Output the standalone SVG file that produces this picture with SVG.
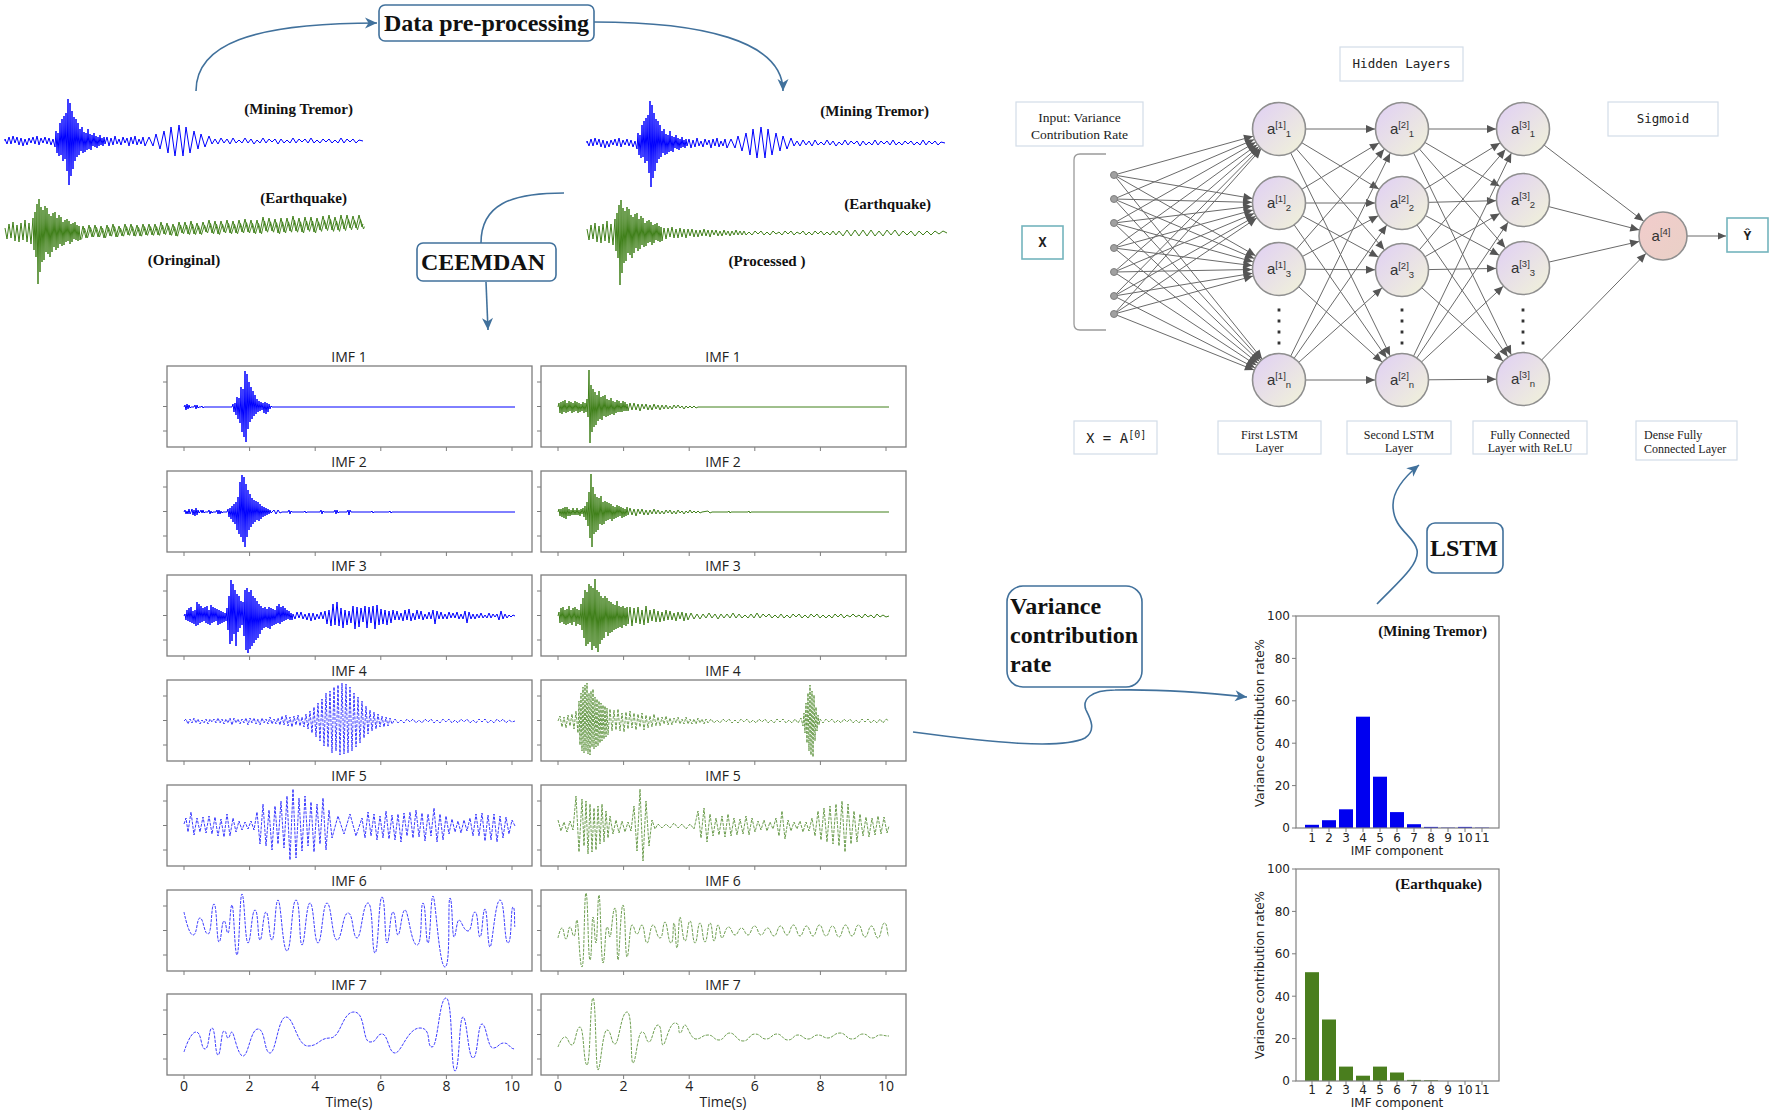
<svg xmlns="http://www.w3.org/2000/svg" xmlns:xlink="http://www.w3.org/1999/xlink" width="1772" height="1114" viewBox="0 0 1772 1114">
<defs>
<style>
.ser{font-family:"Liberation Serif","Times New Roman",serif}
.bs{font-family:"Liberation Serif","Times New Roman",serif;font-weight:bold;fill:#111}
.mono{font-family:"DejaVu Sans Mono","Liberation Mono",monospace;fill:#222}
.os{font-family:"Open Sans","Noto Sans",sans-serif;fill:#222}
.dv{font-family:"DejaVu Sans","Liberation Sans",sans-serif;fill:#222;font-size:12px}
.nl{font-family:"Liberation Sans",Arial,sans-serif;font-size:15px;fill:#333;text-anchor:middle}
.sp{font-size:9.5px}
.cb{fill:none;stroke:#41719c;stroke-width:1.6}
.bx{fill:#fff;stroke:#41719c;stroke-width:1.6}
.lb{fill:#fff;stroke:#d3dde8;stroke-width:1.2}
.tb{fill:#fff;stroke:#74b4bd;stroke-width:1.6}
.nn{fill:none;stroke:#6a6a6a;stroke-width:1}
.nd{fill:url(#gN);stroke:#8f8f8f;stroke-width:1.6}
.wb{fill:none;stroke:#0000ff;stroke-width:1;stroke-linejoin:round}
.wg{fill:none;stroke:#40801a;stroke-width:1;stroke-linejoin:round}
.d{stroke-dasharray:3 1.2;stroke-width:.9;opacity:.85}
.pf{fill:#fff;stroke:#7d7d7d;stroke-width:1.3}
.tk{stroke:#7d7d7d;stroke-width:1;fill:none}
.ax{fill:none;stroke:#808080;stroke-width:1.2}
</style>
<linearGradient id="gN" x1="0" y1="0" x2="1" y2="1"><stop offset="0" stop-color="#e0cff5"/><stop offset="1" stop-color="#f1f3d8"/></linearGradient>
<linearGradient id="gO" x1="0" y1="0" x2="1" y2="1"><stop offset="0" stop-color="#f2cccc"/><stop offset="1" stop-color="#e9d0c6"/></linearGradient>
<marker id="mB" markerUnits="userSpaceOnUse" orient="auto" refX="0" refY="0" overflow="visible"><path d="M0,0 L-12,-5.5 L-8.5,0 L-12,5.5z" fill="#41719c"/></marker>
<marker id="m27" markerUnits="userSpaceOnUse" orient="auto" refX="27" refY="0" overflow="visible"><path d="M0,0 L-9,-4 L-9,4z" fill="#555"/></marker>
<marker id="m24" markerUnits="userSpaceOnUse" orient="auto" refX="24.5" refY="0" overflow="visible"><path d="M0,0 L-9,-4 L-9,4z" fill="#555"/></marker>
<marker id="m0" markerUnits="userSpaceOnUse" orient="auto" refX="0" refY="0" overflow="visible"><path d="M0,0 L-8,-3.5 L-8,3.5z" fill="#555"/></marker>
<g id="pfr"><rect class="pf" x="0" y="0" width="365" height="81"/><path class="tk" d="M-4,16h4M-4,40.5h4M-4,65h4M17,81v4M82.6,81v4M148.2,81v4M213.8,81v4M279.4,81v4M345,81v4"/></g>
<path id="wMT" d="M0,0 0,-2 2,3 4,-4 6,3 8,-5 10,2 12,-4 14,4 16,-3 18,5 20,-2 22,4 24,-3 26,2 28,-4 30,3 32,-5 34,4 36,-3 38,2 40,-4 42,3 44,-3 46,4 48,-2 50,6 51,-10 52,12 53,-8 54,15 55,-18 56,14 57,-22 58,20 59,-25 60,18 61,-28 62,30 63,-42 64,44 65,-38 66,35 67,-30 68,28 69,-24 70,20 71,-22 72,16 73,-18 74,14 75,-12 76,10 77,-14 78,12 79,-9 80,11 81,-8 82,9 83,-12 84,8 85,-7 86,9 87,-6 88,5 89,-8 90,6 91,-5 92,7 93,-4 94,5 95,-6 96,4 97,-3 98,5 99,-4 100,3 102,-4 104,5 106,-3 108,4 110,-5 112,3 114,-2 116,4 118,-4 120,2 122,-3 124,5 126,-4 128,3 130,-5 132,4 134,-2 136,3 138,-4 140,5 144,-4 148,5 151,-7 155,8 159,-10 163,12 166,-14 170,15 174,-16 178,15 181,-14 185,12 189,-10 193,8 196,-7 200,6 204,-5 207,3 210,-2 213,3 216,-3 219,2 222,-2 225,3 228,-3 231,2 234,-1 237,2 240,-3 243,2 246,-2 249,3 252,-1 255,2 258,-3 261,2 264,-2 267,1 270,-2 273,3 276,-2 279,2 282,-1 285,2 288,-3 291,2 294,-2 297,1 300,-2 303,2 306,-3 309,2 312,-1 315,2 318,-2 321,1 324,-2 327,2 330,-1 333,2 336,-3 339,2 342,-2 345,1 348,-2 351,2 354,-1 358,0"/>
<path id="wEQ" d="M0,-4 2,7 4,-8 6,6 8,-10 10,9 12,-7 14,10 16,-9 18,8 20,-12 22,10 24,-9 26,12 28,-14 29,18 30,-20 31,25 32,-28 33,52 34,-33 35,40 36,-25 37,30 38,-22 39,28 40,-26 41,20 42,-24 43,22 44,-18 45,25 46,-16 47,20 48,-19 49,15 50,-20 51,18 52,-14 53,16 54,-17 55,12 56,-15 57,14 58,-10 59,13 60,-12 61,10 62,-13 63,9 64,-11 65,12 66,-8 67,10 68,-9 69,7 70,-10 71,8 72,-7 73,9 74,-6 75,8"/>
<path id="wEQt" d="M75,8 78,-6 81,6 84,-7 87,5 90,-7 93,5 96,-6 99,6 102,-7 105,4 108,-8 111,5 114,-6 117,4 120,-8 123,3 126,-8 129,4 132,-7 135,4 138,-8 141,3 144,-8 147,3 150,-8 153,3 156,-10 159,2 162,-9 165,3 168,-8 171,4 174,-10 177,1 180,-10 183,2 186,-11 189,2 192,-9 195,2 198,-10 201,0 204,-12 207,1 210,-11 213,2 216,-11 219,0 222,-12 225,1 228,-11 231,1 234,-12 237,0 240,-13 243,0 246,-12 249,1 252,-12 255,1 258,-15 261,-1 264,-14 267,-1 270,-13 273,1 276,-14 279,0 282,-14 285,-1 288,-16 291,-1 294,-14 297,0 300,-15 303,-2 306,-15 309,0 312,-14 315,-2 318,-16 321,-3 324,-17 327,-2 330,-15 333,-2 336,-17 339,-3 342,-17 345,-4 348,-16 351,-4 354,-17 357,-5 358,-8"/>
</defs>
<rect width="1772" height="1114" fill="#fff"/>

<g id="connectors">
<path class="cb" marker-end="url(#mB)" d="M196,91 C196,45 250,23 377,23"/>
<path class="cb" marker-end="url(#mB)" d="M594,22 C700,22 783,40 783,91"/>
<path class="cb" d="M564,193 C510,193 481,205 481,243"/>
<path class="cb" marker-end="url(#mB)" d="M486,282 L488,330"/>
<path class="cb" marker-end="url(#mB)" d="M913,732 C990,742 1060,750 1085,738 C1097,730 1090,718 1086,710 C1082,700 1090,690 1115,690 C1160,689 1210,693 1247,697"/>
<path class="cb" marker-end="url(#mB)" d="M1377,604 C1395,585 1420,565 1417,550 C1414,535 1393,530 1393,505 C1393,488 1408,474 1419,465"/>
<g class="nn" marker-end="url(#m27)">
<path d="M1114,175 1279,129"/><path d="M1114,175 1279,203"/><path d="M1114,175 1279,269"/><path d="M1114,175 1279,380"/>
<path d="M1114,199 1279,129"/><path d="M1114,199 1279,203"/><path d="M1114,199 1279,269"/><path d="M1114,199 1279,380"/>
<path d="M1114,223 1279,129"/><path d="M1114,223 1279,203"/><path d="M1114,223 1279,269"/><path d="M1114,223 1279,380"/>
<path d="M1114,248 1279,129"/><path d="M1114,248 1279,203"/><path d="M1114,248 1279,269"/><path d="M1114,248 1279,380"/>
<path d="M1114,272 1279,129"/><path d="M1114,272 1279,203"/><path d="M1114,272 1279,269"/><path d="M1114,272 1279,380"/>
<path d="M1114,296 1279,129"/><path d="M1114,296 1279,203"/><path d="M1114,296 1279,269"/><path d="M1114,296 1279,380"/>
<path d="M1114,314 1279,129"/><path d="M1114,314 1279,203"/><path d="M1114,314 1279,269"/><path d="M1114,314 1279,380"/>
<path d="M1279,129 1402,129"/><path d="M1279,129 1402,203"/><path d="M1279,129 1402,270"/><path d="M1279,129 1402,380"/>
<path d="M1279,203 1402,129"/><path d="M1279,203 1402,203"/><path d="M1279,203 1402,270"/><path d="M1279,203 1402,380"/>
<path d="M1279,269 1402,129"/><path d="M1279,269 1402,203"/><path d="M1279,269 1402,270"/><path d="M1279,269 1402,380"/>
<path d="M1279,380 1402,129"/><path d="M1279,380 1402,203"/><path d="M1279,380 1402,270"/><path d="M1279,380 1402,380"/>
<path d="M1402,129 1523,129"/><path d="M1402,129 1523,200"/><path d="M1402,129 1523,268"/><path d="M1402,129 1523,379"/>
<path d="M1402,203 1523,129"/><path d="M1402,203 1523,200"/><path d="M1402,203 1523,268"/><path d="M1402,203 1523,379"/>
<path d="M1402,270 1523,129"/><path d="M1402,270 1523,200"/><path d="M1402,270 1523,268"/><path d="M1402,270 1523,379"/>
<path d="M1402,380 1523,129"/><path d="M1402,380 1523,200"/><path d="M1402,380 1523,268"/><path d="M1402,380 1523,379"/>
</g>
<g class="nn" marker-end="url(#m24)">
<path d="M1523,129 1663,236"/><path d="M1523,200 1663,236"/><path d="M1523,268 1663,236"/><path d="M1523,379 1663,236"/>
</g>
<path class="nn" stroke-width="1.4" marker-end="url(#m0)" d="M1687,236 H1726"/>
</g>

<g id="data-preprocessing"><rect class="bx" x="379" y="5" width="215" height="36" rx="6"/><text class="bs" x="486.5" y="31" font-size="24" text-anchor="middle">Data pre-processing</text></g>
<g id="ceemdan"><rect class="bx" x="417" y="243" width="139" height="38" rx="6"/><text class="bs" x="483" y="270" font-size="24" text-anchor="middle">CEEMDAN</text></g>
<g id="variance-box"><rect class="bx" x="1007" y="586" width="135" height="101" rx="16"/><text class="bs" font-size="24"><tspan x="1010" y="614">Variance</tspan><tspan x="1010" y="643">contribution</tspan><tspan x="1010" y="672">rate</tspan></text></g>
<g id="lstm-box"><rect class="bx" x="1427" y="523" width="76" height="50" rx="8"/><text class="bs" x="1464" y="556" font-size="24" text-anchor="middle">LSTM</text></g>

<g id="signals-original">
<use xlink:href="#wMT" href="#wMT" class="wb" stroke-width="1.3" transform="translate(5,141)"/>
<use xlink:href="#wEQ" href="#wEQ" class="wg" stroke-width="1.3" transform="translate(5,232)"/>
<use xlink:href="#wEQt" href="#wEQt" class="wg" stroke-width="1.3" transform="translate(5,232)"/>
<use xlink:href="#wEQt" href="#wEQt" class="wg" stroke-width="1.1" transform="translate(6.5,233) scale(1,0.8)"/>
<text class="bs" font-size="15" x="353" y="114" text-anchor="end">(Mining Tremor)</text>
<text class="bs" font-size="15" x="347" y="203" text-anchor="end">(Earthquake)</text>
<text class="bs" font-size="15" x="184" y="265" text-anchor="middle">(Oringinal)</text>
</g>

<g id="signals-processed">
<use xlink:href="#wMT" href="#wMT" class="wb" stroke-width="0.9" transform="translate(587,143)"/>
<use xlink:href="#wEQ" href="#wEQ" class="wg" stroke-width="0.9" transform="translate(587,233)"/>
<path class="wg" stroke-width="0.9" transform="translate(587,233)" d="M75,8 77,-5 79,6 81,-5 83,4 85,-6 87,5 89,-4 91,5 93,-5 95,4 97,-4 99,5 101,-4 103,3 105,-4 107,4 109,-3 111,4 113,-3 115,3 117,-4 119,3 121,-3 123,4 125,-3 127,2 129,-3 131,3 133,-2 135,3 137,-3 139,2 141,-2 143,3 145,-2 147,2 149,-3 151,2 153,-2 155,2 157,-2 159,2 162,-1 165,2 168,-2 171,1 174,-2 177,2 180,-1 183,2 186,-2 189,1 192,-1 195,2 198,-2 201,1 204,-2 207,2 210,-1 213,1 216,-2 219,2 222,-1 225,2 228,-2 231,1 234,-2 237,2 240,-1 243,2 246,-2 249,2 252,-2 256,3 260,-3 264,3 268,-3 272,3 276,-3 280,3 284,-3 288,3 292,-2 296,3 300,-3 304,2 308,-3 312,3 316,-2 320,2 324,-2 328,3 332,-2 336,2 340,-2 344,2 348,-2 352,1 356,-2 360,0"/>
<text class="bs" font-size="15" x="929" y="116" text-anchor="end">(Mining Tremor)</text>
<text class="bs" font-size="15" x="931" y="209" text-anchor="end">(Earthquake)</text>
<text class="bs" font-size="15" x="767" y="266" text-anchor="middle">(Processed )</text>
</g>

<g id="imf-panels">
<use xlink:href="#pfr" href="#pfr" x="167" y="366"/><use xlink:href="#pfr" href="#pfr" x="167" y="471"/><use xlink:href="#pfr" href="#pfr" x="167" y="575"/><use xlink:href="#pfr" href="#pfr" x="167" y="680"/><use xlink:href="#pfr" href="#pfr" x="167" y="785"/><use xlink:href="#pfr" href="#pfr" x="167" y="890"/><use xlink:href="#pfr" href="#pfr" x="167" y="994"/>
<use xlink:href="#pfr" href="#pfr" x="541" y="366"/><use xlink:href="#pfr" href="#pfr" x="541" y="471"/><use xlink:href="#pfr" href="#pfr" x="541" y="575"/><use xlink:href="#pfr" href="#pfr" x="541" y="680"/><use xlink:href="#pfr" href="#pfr" x="541" y="785"/><use xlink:href="#pfr" href="#pfr" x="541" y="890"/><use xlink:href="#pfr" href="#pfr" x="541" y="994"/>
<g class="os" font-size="14" text-anchor="middle">
<text x="349" y="362">IMF 1</text><text x="349" y="467">IMF 2</text><text x="349" y="571">IMF 3</text><text x="349" y="676">IMF 4</text><text x="349" y="781">IMF 5</text><text x="349" y="886">IMF 6</text><text x="349" y="990">IMF 7</text>
<text x="723" y="362">IMF 1</text><text x="723" y="467">IMF 2</text><text x="723" y="571">IMF 3</text><text x="723" y="676">IMF 4</text><text x="723" y="781">IMF 5</text><text x="723" y="886">IMF 6</text><text x="723" y="990">IMF 7</text>
<text x="184" y="1091">0</text><text x="249.6" y="1091">2</text><text x="315.2" y="1091">4</text><text x="380.8" y="1091">6</text><text x="446.4" y="1091">8</text><text x="512" y="1091">10</text>
<text x="558" y="1091">0</text><text x="623.6" y="1091">2</text><text x="689.2" y="1091">4</text><text x="754.8" y="1091">6</text><text x="820.4" y="1091">8</text><text x="886" y="1091">10</text>
<text x="349" y="1107">Time(s)</text><text x="723" y="1107">Time(s)</text>
</g>
<path class="wb" transform="translate(184,407)" d="M0,0 1,-2 2,3 3,-3 4,2 5,-2 6,1 7,0 10,0 11,-2 12,2 13,-2 14,1 15,0 17,0 18,-1 19,1 20,0 48,0 49,-3 50,5 51,-4 52,8 53,-10 54,12 55,-9 56,16 57,-20 58,25 59,-18 60,30 61,-36 62,35 63,-33 64,22 65,-25 66,15 67,-20 68,12 69,-16 70,9 71,-12 72,7 73,-8 74,5 75,-6 76,4 77,-5 78,3 79,-4 80,6 81,-5 82,7 83,-4 84,5 85,-3 86,2 87,-1 88,0 331,0"/>
<path class="wb" transform="translate(184,512)" d="M0,0 1,-2 2,2 3,-1 4,2 5,-3 6,2 7,0 8,-3 9,3 10,-2 11,4 12,-4 13,3 14,-2 15,1 16,0 17,-2 18,1 19,-2 20,1 21,0 24,0 25,-2 26,2 27,-1 28,1 29,0 32,0 33,-2 34,2 35,-2 36,2 37,-1 38,1 39,0 43,0 44,-3 45,5 46,-4 47,7 48,-6 49,10 50,-8 51,12 52,-10 53,18 54,-15 55,22 56,-30 57,25 58,-37 59,30 60,-35 61,35 62,-28 63,25 64,-22 65,18 66,-18 67,15 68,-14 69,12 70,-12 71,10 72,-11 73,8 74,-10 75,9 76,-8 77,7 78,-6 79,5 80,-5 81,4 82,-4 83,3 84,-3 85,2 86,-2 87,1 88,0 90,-2 92,2 94,-2 96,1 98,0 104,0 105,-2 106,2 107,-1 108,0 120,0 121,-1 122,1 123,0 136,0 137,-2 138,2 139,-1 140,0 150,0 151,-2 152,2 153,-2 154,1 155,0 163,0 164,-2 165,3 166,-2 167,0 187,0 188,-1 189,1 190,0 205,0 206,-1 207,1 208,0 331,0"/>
<path class="wb" transform="translate(184,616)" d="M0,0 1,-2 2,4 3,-6 4,5 5,-8 6,6 7,-9 8,7 9,-5 10,8 11,-6 12,10 13,-14 14,9 15,-12 16,7 17,-10 18,6 19,-8 20,5 21,-9 22,7 23,-10 24,8 25,-6 26,9 27,-11 28,7 29,-9 30,6 31,-8 32,5 33,-7 34,9 35,-6 36,8 37,-5 38,7 39,-4 40,6 41,-3 42,5 43,-8 44,14 45,-20 46,28 47,-36 48,25 49,-32 50,18 51,-26 52,30 53,-22 54,16 55,-20 56,12 57,-15 58,9 59,-14 60,20 61,-26 62,34 63,-28 64,37 65,-24 66,33 67,-26 68,30 69,-20 70,27 71,-18 72,24 73,-15 74,22 75,-12 76,18 77,-10 78,14 79,-8 80,12 81,-9 82,11 83,-7 84,12 85,-9 86,13 87,-8 88,10 89,-7 90,9 91,-6 92,8 93,-10 94,7 95,-12 96,8 97,-9 98,6 99,-10 100,5 101,-8 102,4 103,-6 104,3 105,-5 106,4 107,-3 108,4 109,-2 111,3 113,-4 115,2 117,-4 119,3 121,-2 123,4 125,-3 127,5 129,-3 131,4 133,-2 135,3 137,-4 139,3 141,-5 143,8 145,-6 147,10 149,-12 151,9 153,-14 155,10 157,-8 159,12 161,-6 163,9 165,-5 167,7 169,-10 171,13 173,-9 175,11 177,-8 179,6 181,-10 183,12 185,-9 187,7 189,-10 191,13 193,-11 195,9 197,-7 199,8 201,-6 203,9 205,-5 207,7 209,-6 211,4 213,-5 215,4 217,-3 219,5 221,-6 223,4 225,-7 227,5 229,-3 231,4 233,-6 235,3 237,-5 239,4 241,-2 243,3 245,-4 247,3 249,-6 251,8 253,-5 255,3 257,-4 259,3 261,-2 263,3 265,-4 267,2 269,-3 271,2 273,-4 275,3 277,-2 279,3 281,-5 283,7 285,-4 287,3 289,-2 291,3 293,-2 295,2 297,-3 299,2 301,-1 303,2 305,-3 307,2 309,-2 311,1 313,-2 315,4 317,-5 319,3 321,-2 323,2 325,-1 327,1 329,-1 331,0"/>
<path class="wb d" transform="translate(184,721)" d="M0,0 2,-2 4,3 6,-2 8,2 10,-3 12,2 14,-2 16,3 18,-1 20,2 22,-2 24,3 26,-2 28,1 30,-2 32,2 34,-3 36,2 38,-2 40,3 42,-2 44,2 46,-3 48,4 50,-3 52,2 54,-2 56,3 58,-2 60,2 62,-3 64,4 66,-3 68,2 70,-3 72,3 74,-2 76,4 78,-3 80,2 82,-2 84,3 86,-4 88,3 90,-2 92,3 94,-3 96,4 98,-5 100,4 102,-6 104,5 106,-4 108,6 110,-5 112,4 114,-6 116,5 118,-4 120,6 122,-7 124,8 126,-10 128,12 130,-14 132,16 134,-18 136,20 138,-22 140,25 142,-28 144,26 146,-30 148,32 150,-34 152,30 154,-36 156,34 158,-38 160,33 162,-37 164,32 166,-34 168,30 170,-28 172,26 174,-24 176,22 178,-20 180,17 182,-15 184,13 186,-11 188,10 190,-9 192,8 194,-7 196,6 198,-5 200,6 202,-4 204,5 206,-3 208,3 211,-2 214,2 217,-1 220,2 223,-2 226,1 229,-2 232,2 235,-1 238,2 241,-2 244,1 247,-2 250,2 253,-1 256,2 259,-2 262,1 265,-2 268,2 271,-1 274,2 277,-2 280,1 283,-2 286,2 289,-1 292,2 295,-2 298,1 301,-2 304,2 307,-1 310,2 313,-2 316,1 319,-2 322,2 325,-1 328,1 331,0"/>
<path class="wb d" transform="translate(184,826)" d="M0,-2 2,-8 4,6 7,-14 10,9 13,-8 16,6 19,-9 22,7 25,-10 28,8 31,-9 34,10 37,-7 40,11 43,-12 46,10 49,-8 52,6 55,-5 58,4 61,-4 64,3 67,-5 70,4 73,-14 76,18 79,-22 82,20 85,-16 88,24 91,-20 94,18 97,-25 100,22 103,-30 106,34 109,-37 112,32 115,-28 118,25 121,-30 124,20 127,-24 130,26 133,-22 136,18 139,-28 142,24 145,-16 148,12 154,-10 160,8 166,-12 172,10 178,-8 181,12 184,-14 187,10 190,-12 193,14 196,-10 199,12 202,-15 205,13 208,-11 211,14 214,-12 217,16 220,-13 223,10 226,-14 229,12 232,-16 235,11 238,-13 241,15 244,-12 247,10 250,-18 253,16 256,-12 259,14 262,-10 265,8 268,-7 271,6 274,-5 277,7 280,-6 283,5 286,-8 289,10 292,-12 295,10 298,-13 301,15 304,-11 307,14 310,-12 313,16 316,-10 319,12 322,-9 325,8 328,-6 331,0"/>
<path class="wb d" transform="translate(184,931)" d="M0,-19 S4.5,4 9,4 S12.5,-13 16,-13 S20,3 24,3 S27,-27 30,-27 S32.5,11 35,11 S37.5,-10 40,-10 S42,2 44,2 S46,-26 48,-26 S50.5,24 53,24 S55.5,-37 58,-37 S61,12 64,12 S67.5,-21 71,-21 S73.5,9 76,9 S79,-19 82,-19 S85,9 88,9 S91,-31 94,-31 S98.5,20 103,20 S107.5,-31 112,-31 S115,14 118,14 S122,-28 126,-28 S130,12 134,12 S138.5,-28 143,-28 S148,9 153,9 S158.5,-18 164,-18 S168.5,7 173,7 S178.5,-28 184,-28 S187.5,22 191,22 S194.5,-34 198,-34 S200.5,12 203,12 S206,-19 209,-19 S211.5,4 214,4 S217.5,-21 221,-21 S227,14 233,14 S236,-28 239,-28 S241.5,12 244,12 S246.5,-35 249,-35 S255,36 261,36 S263.5,-33 266,-33 S268,6 270,6 S272.5,-11 275,-11 S279.5,0 284,0 S287.5,-19 291,-19 S293.5,6 296,6 S298.5,-22 301,-22 S303.5,16 306,16 S311,-31 316,-31 S320,12 324,12 S326.5,-24 329,-24 S330,-4 331,-4"/>
<path class="wb d" transform="translate(184,1036)" d="M0,16 S6,-4 12,-4 S16.5,13 21,13 S24.5,-8 28,-8 S31,19 34,19 S37,-5 40,-5 S42,2 44,2 S46,-4 48,-4 S53.5,20 59,20 S66.5,-7 74,-7 S80,17 86,17 S94,-19 102,-19 S113,10 124,10 S135,2 146,2 S158,-24 170,-24 S178,6 186,6 S192,-2 198,-2 S204.5,17 211,17 S223.5,-8 236,-8 S242,11 248,11 S255,-38 262,-38 S266.5,35 271,35 S275,-19 279,-19 S284,22 289,22 S293.5,-12 298,-12 S303.5,12 309,12 S314.5,7 320,7 S325.5,13 331,13"/>
<path class="wg" transform="translate(558,407)" d="M0,0 1,-4 2,6 3,-5 4,7 5,-6 6,5 7,-7 8,6 9,-4 10,5 11,-6 12,4 13,-5 14,6 15,-4 16,5 17,-6 18,4 19,-5 20,6 21,-4 22,5 23,-3 24,4 25,-5 26,6 27,-4 28,5 29,-8 30,10 31,-37 32,36 33,-22 34,25 35,-18 36,20 37,-15 38,18 39,-12 40,14 41,-16 42,12 43,-10 44,13 45,-11 46,9 47,-12 48,10 49,-8 50,9 51,-7 52,8 53,-9 54,7 55,-6 56,8 57,-5 58,6 59,-7 60,5 61,-6 62,5 63,-4 64,5 65,-6 66,4 67,-5 68,4 69,-3 70,4 72,-4 74,3 76,-4 78,3 80,-3 82,4 84,-3 86,2 88,-3 90,3 92,-2 94,3 96,-3 98,2 100,-2 102,3 104,-2 106,2 108,-2 110,2 112,-1 114,2 116,-2 118,1 120,-2 122,1 124,-1 126,2 128,-1 130,1 132,-1 134,1 136,-1 138,1 140,0 331,0"/>
<path class="wg" transform="translate(558,512)" d="M0,0 1,-3 2,4 3,-3 4,5 5,-4 6,6 7,-5 8,7 9,-5 10,4 11,-3 12,4 13,-2 14,3 15,-4 16,3 17,-2 18,3 19,-4 20,3 21,-2 22,4 23,-3 24,2 25,-4 26,5 27,-6 28,8 29,-10 30,14 31,-20 32,26 33,-38 34,35 35,-25 36,22 37,-18 38,20 39,-15 40,18 41,-14 42,12 43,-16 44,13 45,-10 46,12 47,-11 48,9 49,-10 50,8 51,-9 52,7 53,-8 54,9 55,-6 56,7 57,-5 58,6 59,-7 60,5 61,-6 62,4 63,-5 64,6 65,-4 66,5 67,-3 68,4 69,-5 70,3 72,-4 74,3 76,-3 78,4 80,-3 82,2 84,-3 86,3 88,-2 90,3 92,-2 94,2 96,-3 98,2 100,-2 102,2 104,-1 106,2 108,-2 110,1 112,-2 114,2 116,-1 118,2 120,-2 122,1 124,-1 126,2 128,-1 130,1 132,-2 134,1 136,-1 138,1 140,-1 142,1 144,0 150,-1 152,1 154,0 170,0 171,-1 172,1 173,0 190,0 191,-1 192,1 193,0 331,0"/>
<path class="wg" transform="translate(558,616)" d="M0,0 1,-4 2,7 3,-8 4,6 5,-9 6,8 7,-6 8,9 9,-7 10,8 11,-10 12,7 13,-6 14,9 15,-8 16,6 17,-9 18,10 19,-7 20,8 21,-6 22,9 23,-12 24,14 25,-18 26,22 27,-26 28,30 29,-24 30,28 31,-32 32,26 33,-30 34,34 35,-28 36,30 37,-37 38,32 39,-26 40,36 41,-24 42,28 43,-20 44,24 45,-18 46,22 47,-20 48,16 49,-18 50,20 51,-15 52,17 53,-14 54,16 55,-12 56,14 57,-11 58,13 59,-15 60,12 61,-10 62,11 63,-9 64,12 65,-10 66,9 67,-8 68,10 69,-9 70,8 72,-9 74,10 76,-8 78,7 80,-9 82,8 84,-6 86,9 88,-10 90,7 92,-6 94,5 96,-7 98,6 100,-5 102,6 104,-4 106,5 108,-6 110,4 112,-5 114,4 116,-3 118,5 120,-4 122,3 124,-4 126,5 128,-3 130,4 133,-3 136,3 139,-2 142,3 145,-2 148,2 151,-3 154,2 157,-2 160,3 163,-2 166,2 169,-2 172,2 175,-3 178,2 181,-2 184,2 187,-1 190,2 193,-2 196,2 199,-3 202,2 205,-2 208,1 211,-2 214,2 217,-1 220,2 223,-2 226,2 229,-1 232,2 235,-2 238,1 241,-2 244,2 247,-1 250,2 253,-2 256,1 259,-2 262,2 265,-1 268,2 271,-1 274,2 277,-2 280,1 283,-2 286,2 289,-1 292,1 295,-2 298,1 301,-1 304,2 307,-2 310,1 313,-1 316,2 319,-2 322,1 325,-1 328,1 331,0"/>
<path class="wg d" transform="translate(558,721)" d="M0,0 2,-5 4,6 6,-4 8,7 10,-6 12,5 14,-7 16,8 18,-10 20,12 21,-20 22,24 23,-28 24,30 25,-34 26,32 27,-36 28,30 29,-38 30,33 31,-28 32,34 33,-30 34,26 35,-32 36,28 37,-24 38,26 39,-22 40,25 41,-20 42,22 43,-18 44,20 45,-16 46,18 47,-15 48,16 49,-13 50,14 52,-12 54,10 56,-11 58,9 60,-12 62,10 64,-8 66,11 68,-9 70,8 72,-10 74,7 76,-8 78,9 80,-7 82,6 84,-8 86,9 88,-6 90,7 92,-5 94,6 96,-7 98,5 100,-4 102,5 104,-4 106,3 108,-5 110,4 112,-3 114,4 116,-3 118,2 120,-4 122,3 124,-2 126,3 128,-4 130,3 132,-2 134,3 136,-2 138,3 140,-3 142,2 144,-2 146,3 148,-2 150,2 153,-2 156,2 159,-1 162,2 165,-2 168,1 171,-2 174,2 177,-1 180,2 183,-2 186,1 189,-2 192,2 195,-1 198,2 201,-2 204,1 207,-2 210,2 213,-1 216,2 219,-2 222,1 225,-2 228,2 231,-1 234,2 237,-2 240,2 243,-3 245,5 246,-8 247,12 248,-18 249,22 250,-28 251,30 252,-36 253,34 254,-30 255,36 256,-26 257,20 258,-14 259,10 260,-6 261,4 262,-2 265,2 268,-2 271,1 274,-2 277,2 280,-1 283,2 286,-2 289,1 292,-2 295,2 298,-1 301,2 304,-2 307,1 310,-2 313,2 316,-1 319,2 322,-2 325,2 328,-2 331,0"/>
<path class="wg d" transform="translate(558,826)" d="M0,-6 3,5 6,-4 9,6 12,-5 15,4 18,-30 21,26 24,-27 26,20 28,-25 30,28 32,-22 34,26 36,-18 38,24 40,-20 42,18 44,-22 46,16 48,-15 50,12 52,-10 55,8 58,-6 61,7 64,-5 67,6 70,-4 73,5 76,-20 79,25 82,-37 85,35 88,-25 91,20 94,-6 97,3 100,-2 104,2 108,-2 112,2 116,-3 120,2 124,-2 128,3 132,-2 136,3 140,-15 143,12 146,-18 149,16 152,-12 155,10 158,-8 161,9 164,-10 167,11 170,-12 173,10 176,-8 179,9 182,-7 185,8 188,-10 191,9 194,-8 197,6 200,-5 203,4 206,-6 209,5 212,-4 215,3 218,-8 221,10 224,-15 227,13 230,-6 233,5 236,-4 239,3 242,-5 245,6 248,-4 251,5 254,-8 257,10 260,-15 263,14 266,-18 269,16 272,-20 275,18 278,-22 281,20 284,-25 287,26 290,-22 293,18 296,-15 299,16 302,-12 305,10 308,-9 311,11 314,-8 317,9 320,-10 323,8 326,-9 329,7 331,0"/>
<path class="wg d" transform="translate(558,931)" d="M0,7 S2,-3 4,-3 S6,8 8,8 S10,-4 12,-4 S14,5 16,5 S17.5,-11 19,-11 S21.5,36 24,36 S26,-38 28,-38 S30,29 32,29 S33.5,-14 35,-14 S36.5,12 38,12 S39.5,-36 41,-36 S43,32 45,32 S47,-4 49,-4 S50.5,6 52,6 S54.5,-23 57,-23 S58.5,29 60,29 S62.5,-26 65,-26 S67,26 69,26 S71.5,-6 74,-6 S76.5,3 79,3 S81.5,-6 84,-6 S86.5,12 89,12 S92,-6 95,-6 S98.5,7 102,7 S104.5,-9 107,-9 S110,12 113,12 S114.5,-8 116,-8 S117.5,17 119,17 S120.5,-14 122,-14 S124.5,10 127,10 S129.5,-10 132,-10 S134.5,12 137,12 S139.5,-8 142,-8 S144.5,11 147,11 S149.5,-8 152,-8 S154,10 156,10 S158,-6 160,-6 S162,7 164,7 S167.3,-4 170.5,-4 S173.8,4 177,4 S180.3,-3 183.5,-3 S186.8,4 190,4 S193.3,-5 196.5,-5 S199.8,4 203,4 S206.3,-3 209.5,-3 S212.8,5 216,5 S219.3,-5 222.5,-5 S225.8,4 229,4 S232.3,-6 235.5,-6 S238.8,5 242,5 S245.3,-5 248.5,-5 S251.8,5 255,5 S258.3,-6 261.5,-6 S264.8,5 268,5 S271.3,-5 274.5,-5 S277.8,6 281,6 S284.3,-6 287.5,-6 S290.8,5 294,5 S297.3,-6 300.5,-6 S303.8,6 307,6 S310.3,-5 313.5,-5 S316.8,7 320,7 S323.3,-8 326.5,-8 S328.8,5 331,5"/>
<path class="wg d" transform="translate(558,1036)" d="M0,11 S3.5,1 7,1 S10.5,9 14,9 S18,-9 22,-9 S25.5,29 29,29 S32,-38 35,-38 S37.5,34 40,34 S44.5,-6 49,-6 S53,8 57,8 S63,-24 69,-24 S72,27 75,27 S79.5,-4 84,-4 S87.5,6 91,6 S95.5,-11 100,-11 S102.5,9 105,9 S111,-13 117,-13 S119.5,-3 122,-3 S124.5,-11 127,-11 S132.5,3 138,3 S144,-1 150,-1 S155.5,4 161,4 S166.5,-3 172,-3 S178.5,5 185,5 S191,-2 197,-2 S202.5,3 208,3 S213.5,-2 219,-2 S224.5,4 230,4 S235,-1 240,-1 S245,3 250,3 S255,-1 260,-1 S265,2 270,2 S276,-3 282,-3 S288,3 294,3 S299.5,-2 305,-2 S309.5,2 314,2 S318,-1 322,-1 S326.5,0 331,0"/>
</g>

<g id="nn-labels">
<rect class="lb" x="1340" y="47" width="123" height="34"/><text class="mono" x="1401.5" y="68" font-size="12.5" text-anchor="middle">Hidden Layers</text>
<rect class="lb" x="1016" y="102" width="127" height="44"/><text class="ser" font-size="13.5" text-anchor="middle" fill="#222"><tspan x="1079.5" y="122">Input: Variance</tspan><tspan x="1079.5" y="139">Contribution Rate</tspan></text>
<rect class="lb" x="1608" y="102" width="110" height="34"/><text class="mono" x="1663" y="123" font-size="12.5" text-anchor="middle">Sigmoid</text>
<rect class="tb" x="1022" y="226" width="41" height="33"/><text class="mono" x="1042.5" y="247" font-size="14" font-weight="bold" text-anchor="middle">X</text>
<rect class="tb" x="1727" y="218" width="41" height="34"/><text class="mono" x="1747.5" y="240" font-size="13" font-weight="bold" text-anchor="middle">Ŷ</text>
<path d="M1106,154 H1080 Q1074,154 1074,160 V324 Q1074,330 1080,330 H1106" fill="none" stroke="#9a9a9a" stroke-width="1.3"/>
<rect class="lb" x="1074" y="421" width="83" height="33"/><text class="mono" x="1086" y="443" font-size="14">X = A<tspan font-size="10" dy="-5">[0]</tspan></text>
<rect class="lb" x="1218" y="421" width="103" height="33"/><text class="ser" font-size="12" text-anchor="middle" fill="#222"><tspan x="1269.5" y="439">First  LSTM</tspan><tspan x="1269.5" y="452">Layer</tspan></text>
<rect class="lb" x="1347" y="421" width="104" height="33"/><text class="ser" font-size="12" text-anchor="middle" fill="#222"><tspan x="1399" y="439">Second LSTM</tspan><tspan x="1399" y="452">Layer</tspan></text>
<rect class="lb" x="1473" y="421" width="114" height="33"/><text class="ser" font-size="12" text-anchor="middle" fill="#222"><tspan x="1530" y="439">Fully Connected</tspan><tspan x="1530" y="452">Layer with ReLU</tspan></text>
<rect class="lb" x="1636" y="421" width="101" height="39"/><text class="ser" font-size="12" fill="#222"><tspan x="1644" y="439">Dense Fully</tspan><tspan x="1644" y="453">Connected Layer</tspan></text>
</g>

<g id="input-nodes" fill="#a0a0a0" stroke="#808080" stroke-width="1">
<circle cx="1114" cy="175" r="3.5"/><circle cx="1114" cy="199" r="3.5"/><circle cx="1114" cy="223" r="3.5"/><circle cx="1114" cy="248" r="3.5"/><circle cx="1114" cy="272" r="3.5"/><circle cx="1114" cy="296" r="3.5"/><circle cx="1114" cy="314" r="3.5"/>
</g>
<g id="layer1">
<circle class="nd" cx="1279" cy="129" r="26.5"/><circle class="nd" cx="1279" cy="203" r="26.5"/><circle class="nd" cx="1279" cy="269" r="26.5"/><circle class="nd" cx="1279" cy="380" r="26.5"/>
<text class="nl" x="1279" y="134">a<tspan class="sp" dy="-6">[1]</tspan><tspan class="sp" dy="9">1</tspan></text>
<text class="nl" x="1279" y="208">a<tspan class="sp" dy="-6">[1]</tspan><tspan class="sp" dy="9">2</tspan></text>
<text class="nl" x="1279" y="274">a<tspan class="sp" dy="-6">[1]</tspan><tspan class="sp" dy="9">3</tspan></text>
<text class="nl" x="1279" y="385">a<tspan class="sp" dy="-6">[1]</tspan><tspan class="sp" dy="9">n</tspan></text>
<path d="M1279,310v0.1M1279,321v0.1M1279,332v0.1M1279,343v0.1" stroke="#333" stroke-width="2.8" stroke-linecap="square"/>
</g>
<g id="layer2">
<circle class="nd" cx="1402" cy="129" r="26.5"/><circle class="nd" cx="1402" cy="203" r="26.5"/><circle class="nd" cx="1402" cy="270" r="26.5"/><circle class="nd" cx="1402" cy="380" r="26.5"/>
<text class="nl" x="1402" y="134">a<tspan class="sp" dy="-6">[2]</tspan><tspan class="sp" dy="9">1</tspan></text>
<text class="nl" x="1402" y="208">a<tspan class="sp" dy="-6">[2]</tspan><tspan class="sp" dy="9">2</tspan></text>
<text class="nl" x="1402" y="275">a<tspan class="sp" dy="-6">[2]</tspan><tspan class="sp" dy="9">3</tspan></text>
<text class="nl" x="1402" y="385">a<tspan class="sp" dy="-6">[2]</tspan><tspan class="sp" dy="9">n</tspan></text>
<path d="M1402,310v0.1M1402,321v0.1M1402,332v0.1M1402,343v0.1" stroke="#333" stroke-width="2.8" stroke-linecap="square"/>
</g>
<g id="layer3">
<circle class="nd" cx="1523" cy="129" r="26.5"/><circle class="nd" cx="1523" cy="200" r="26.5"/><circle class="nd" cx="1523" cy="268" r="26.5"/><circle class="nd" cx="1523" cy="379" r="26.5"/>
<text class="nl" x="1523" y="134">a<tspan class="sp" dy="-6">[3]</tspan><tspan class="sp" dy="9">1</tspan></text>
<text class="nl" x="1523" y="205">a<tspan class="sp" dy="-6">[3]</tspan><tspan class="sp" dy="9">2</tspan></text>
<text class="nl" x="1523" y="273">a<tspan class="sp" dy="-6">[3]</tspan><tspan class="sp" dy="9">3</tspan></text>
<text class="nl" x="1523" y="384">a<tspan class="sp" dy="-6">[3]</tspan><tspan class="sp" dy="9">n</tspan></text>
<path d="M1523,310v0.1M1523,321v0.1M1523,332v0.1M1523,343v0.1" stroke="#333" stroke-width="2.8" stroke-linecap="square"/>
</g>
<g id="output-node">
<circle cx="1663" cy="236" r="24" fill="url(#gO)" stroke="#8f8f8f" stroke-width="1.6"/>
<text class="nl" x="1661" y="241">a<tspan class="sp" dy="-6">[4]</tspan></text>
</g>

<g id="chart-mining-tremor">
<g fill="#0000f0"><rect x="1305" y="824.8" width="14" height="3.2"/><rect x="1322" y="820.2" width="14" height="7.8"/><rect x="1339" y="809.3" width="14" height="18.7"/><rect x="1356" y="716.7" width="14" height="111.3"/><rect x="1373" y="776.7" width="14" height="51.3"/><rect x="1390" y="812.1" width="14" height="15.9"/><rect x="1407" y="824.2" width="14" height="3.8"/><rect x="1424" y="826.9" width="14" height="1.1"/><rect x="1441" y="827.6" width="14" height="0.4"/><rect x="1458" y="826.9" width="14" height="1.1"/><rect x="1475" y="827.6" width="14" height="0.4"/></g>
<rect class="ax" x="1296" y="616" width="203" height="212"/>
<path class="tk" d="M1292,616h4M1292,658.4h4M1292,700.8h4M1292,743.2h4M1292,785.6h4M1292,828h4M1312,828v4M1329,828v4M1346,828v4M1363,828v4M1380,828v4M1397,828v4M1414,828v4M1431,828v4M1448,828v4M1465,828v4M1482,828v4"/>
<g class="dv" text-anchor="end"><text x="1290" y="620.3">100</text><text x="1290" y="662.7">80</text><text x="1290" y="705.1">60</text><text x="1290" y="747.5">40</text><text x="1290" y="789.9">20</text><text x="1290" y="832.3">0</text></g>
<g class="dv" text-anchor="middle"><text x="1312" y="842">1</text><text x="1329" y="842">2</text><text x="1346" y="842">3</text><text x="1363" y="842">4</text><text x="1380" y="842">5</text><text x="1397" y="842">6</text><text x="1414" y="842">7</text><text x="1431" y="842">8</text><text x="1448" y="842">9</text><text x="1465" y="842">10</text><text x="1482" y="842">11</text><text x="1397" y="854.5">IMF component</text></g>
<text class="dv" transform="translate(1264,723) rotate(-90)" text-anchor="middle">Variance contribution rate%</text>
<text class="bs" font-size="15" x="1487" y="636" text-anchor="end">(Mining Tremor)</text>
</g>

<g id="chart-earthquake">
<g fill="#4a7e1e"><rect x="1305" y="972.2" width="14" height="108.8"/><rect x="1322" y="1019.5" width="14" height="61.5"/><rect x="1339" y="1066.6" width="14" height="14.4"/><rect x="1356" y="1075.7" width="14" height="5.3"/><rect x="1373" y="1066.6" width="14" height="14.4"/><rect x="1390" y="1072.5" width="14" height="8.5"/><rect x="1407" y="1079.9" width="14" height="1.1"/><rect x="1424" y="1080.2" width="14" height="0.8"/></g>
<rect class="ax" x="1296" y="869" width="203" height="212"/>
<path class="tk" d="M1292,869h4M1292,911.4h4M1292,953.8h4M1292,996.2h4M1292,1038.6h4M1292,1081h4M1312,1081v4M1329,1081v4M1346,1081v4M1363,1081v4M1380,1081v4M1397,1081v4M1414,1081v4M1431,1081v4M1448,1081v4M1465,1081v4M1482,1081v4"/>
<g class="dv" text-anchor="end"><text x="1290" y="873.3">100</text><text x="1290" y="915.7">80</text><text x="1290" y="958.1">60</text><text x="1290" y="1000.5">40</text><text x="1290" y="1042.9">20</text><text x="1290" y="1085.3">0</text></g>
<g class="dv" text-anchor="middle"><text x="1312" y="1094">1</text><text x="1329" y="1094">2</text><text x="1346" y="1094">3</text><text x="1363" y="1094">4</text><text x="1380" y="1094">5</text><text x="1397" y="1094">6</text><text x="1414" y="1094">7</text><text x="1431" y="1094">8</text><text x="1448" y="1094">9</text><text x="1465" y="1094">10</text><text x="1482" y="1094">11</text><text x="1397" y="1107">IMF component</text></g>
<text class="dv" transform="translate(1264,975) rotate(-90)" text-anchor="middle">Variance contribution rate%</text>
<text class="bs" font-size="15" x="1482" y="889" text-anchor="end">(Earthquake)</text>
</g>
</svg>
